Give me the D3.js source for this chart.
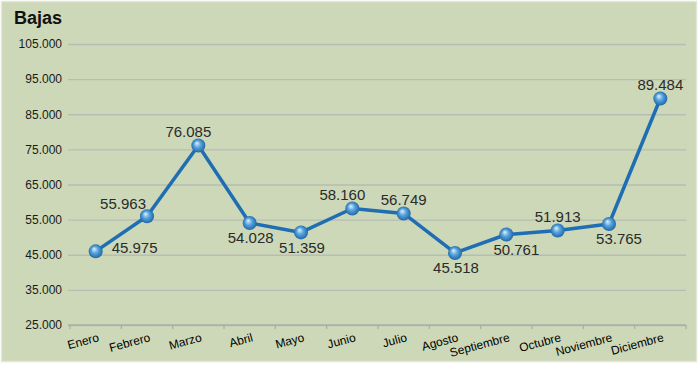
<!DOCTYPE html>
<html>
<head>
<meta charset="utf-8">
<title>Bajas</title>
<script src="https://cdn.jsdelivr.net/npm/d3@7/dist/d3.min.js"></script>
<style>
html,body{margin:0;padding:0;background:#fff;}
text{font-family:"Liberation Sans",Arial,sans-serif;}
</style>
</head>
<body>
<script>
// data
var months=["Enero","Febrero","Marzo","Abril","Mayo","Junio","Julio","Agosto","Septiembre","Octubre","Noviembre","Diciembre"];
var bajas=[45975,55963,76085,54028,51359,58160,56749,45518,50761,51913,53765,89484];
var yTicks=[25000,35000,45000,55000,65000,75000,85000,95000,105000];
// where each value label sits relative to its point
var labelPlace=["right","left-above","above-left","below","below","above-left","above","below","below-right","above","below-right","above"];

var W=700,H=370;
var svg=d3.select("body").append("svg")
	.attr("width",W)
	.attr("height",H);

var defs=svg.append("defs");
var grad=defs.append("radialGradient")
	.attr("id","ball")
	.attr("cx","50%").attr("cy","50%").attr("r","55%")
	.attr("fx","38%").attr("fy","32%");
grad.append("stop").attr("offset","0%").attr("stop-color","#e2f1fc");
grad.append("stop").attr("offset","45%").attr("stop-color","#55a3de");
grad.append("stop").attr("offset","100%").attr("stop-color","#1a5e9e");

svg.append("rect")
	.attr("x",1.5).attr("y",1.5)
	.attr("width",695).attr("height",360)
	.attr("fill","#ccd8b7")
	.attr("stroke","#e2e8d6")
	.attr("stroke-width",1.5);

svg.append("text")
	.attr("x",14)
	.attr("y",24)
	.attr("font-size",18)
	.attr("font-weight","bold")
	.attr("fill","#111")
	.text("Bajas");

var x=d3.scaleBand()
	.domain(months)
	.range([70,686]);

var y=d3.scaleLinear()
	.domain([25000,105000])
	.range([325,44]);

var fmt=d3.formatLocale({decimal:",",thousands:".",grouping:[3],currency:["",""]}).format(",");

// y axis: gridlines + labels
var yAxis=d3.axisLeft(y)
	.tickValues(yTicks)
	.tickFormat(fmt)
	.tickSize(-(686-68))
	.tickPadding(6);
var gy=svg.append("g")
	.attr("transform","translate(68,0)")
	.call(yAxis);
gy.select(".domain").remove();
gy.selectAll(".tick line").attr("stroke","#b6bdb4").attr("stroke-width",1.3);
gy.selectAll(".tick text")
	.attr("font-size",12)
	.attr("fill","#1a1a1a")
	.attr("font-family","'Liberation Sans',Arial,sans-serif");

// x axis line + boundary ticks
svg.append("line")
	.attr("x1",68).attr("x2",686)
	.attr("y1",y(25000)).attr("y2",y(25000))
	.attr("stroke","#a9b0a6").attr("stroke-width",1.5);
var bounds=months.map(m=>x(m)).concat([x.range()[1]]);
svg.selectAll(".xt")
	.data(bounds)
	.enter()
	.append("line")
	.attr("class","xt")
	.attr("x1",d=>d).attr("x2",d=>d)
	.attr("y1",y(25000)).attr("y2",y(25000)+4)
	.attr("stroke","#a9b0a6").attr("stroke-width",1.3);

var xAxis=d3.axisBottom(x).tickSize(0).tickPadding(0);
var gx=svg.append("g")
	.attr("transform","translate(0,"+y(25000)+")")
	.call(xAxis);
gx.select(".domain").remove();
gx.selectAll(".tick text")
	.attr("font-size",12)
	.attr("fill","#000")
	.attr("font-family","'Liberation Sans',Arial,sans-serif")
	.attr("text-anchor","end")
	.attr("dy",null)
	.attr("y",0)
	.attr("transform","translate(4,16) rotate(-15)");

// line
var line=d3.line()
	.x((d,i)=>x(months[i])+x.bandwidth()/2)
	.y(d=>y(d));
svg.append("path")
	.datum(bajas)
	.attr("d",line)
	.attr("fill","none")
	.attr("stroke","#1f6db3")
	.attr("stroke-width",3.5)
	.attr("stroke-linejoin","round");

svg.selectAll(".pt")
	.data(bajas)
	.enter()
	.append("circle")
	.attr("class","pt")
	.attr("cx",(d,i)=>x(months[i])+x.bandwidth()/2)
	.attr("cy",d=>y(d))
	.attr("r",7)
	.attr("fill","url(#ball)");

// value labels
var place={
	"right":{dx:16,dy:-4,anchor:"start"},
	"left-above":{dx:-1,dy:-13,anchor:"end"},
	"above":{dx:0,dy:-14,anchor:"middle"},
	"above-left":{dx:-10,dy:-14,anchor:"middle"},
	"below":{dx:1,dy:15,anchor:"middle"},
	"below-right":{dx:10,dy:15,anchor:"middle"}
};
svg.selectAll(".lbl")
	.data(bajas)
	.enter()
	.append("text")
	.attr("class","lbl")
	.attr("x",(d,i)=>x(months[i])+x.bandwidth()/2+place[labelPlace[i]].dx)
	.attr("y",(d,i)=>y(d)+place[labelPlace[i]].dy)
	.attr("dy","0.36em")
	.attr("text-anchor",(d,i)=>place[labelPlace[i]].anchor)
	.attr("font-size",15)
	.attr("fill","#2b2b2b")
	.text(d=>fmt(d));
</script>
</body>
</html>
